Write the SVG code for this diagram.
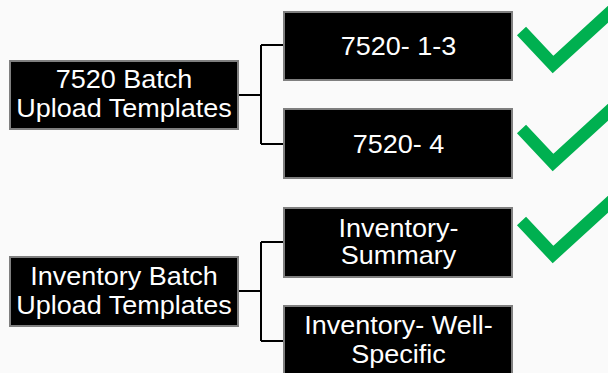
<svg xmlns="http://www.w3.org/2000/svg" width="608" height="373" viewBox="0 0 608 373">
<style>
.box{fill:#000;stroke:#7f7f7f;stroke-width:2}
.lbl{font-family:"Liberation Sans",Arial,sans-serif;font-size:25px;fill:#fff;text-anchor:middle}
.conn{fill:none;stroke:#000;stroke-width:2}
.chk{fill:none;stroke:#00b050;stroke-width:12.5;stroke-linejoin:miter;stroke-linecap:butt}
</style>
<rect width="608" height="373" fill="#fafafa"/>
<g id="connectors">
<path class="conn" d="M239 95H261M261 45V144M261 45H284M261 144H284"/>
<path class="conn" d="M239 291H261M261 242V341M261 242H284M261 341H284"/>
</g>
<g id="n7520">
<rect class="box" x="10" y="61" width="228" height="68"/>
<g transform="matrix(1.08 0 0 1 -9.92 0)"><text class="lbl" x="124" y="88">7520 Batch</text><text class="lbl" x="124" y="117">Upload Templates</text></g>
</g>
<g id="n7520-13">
<rect class="box" x="284" y="12" width="228" height="68"/>
<g transform="matrix(1.08 0 0 1 -31.88 0)"><text class="lbl" x="398.5" y="55">7520- 1-3</text></g>
</g>
<g id="n7520-4">
<rect class="box" x="284" y="109" width="228" height="69"/>
<g transform="matrix(1.08 0 0 1 -31.88 0)"><text class="lbl" x="398.5" y="153">7520- 4</text></g>
</g>
<g id="ninv">
<rect class="box" x="10" y="257" width="228" height="69"/>
<g transform="matrix(1.08 0 0 1 -9.92 0)"><text class="lbl" x="124" y="285">Inventory Batch</text><text class="lbl" x="124" y="314">Upload Templates</text></g>
</g>
<g id="ninv-sum">
<rect class="box" x="284" y="208" width="228" height="69"/>
<g transform="matrix(1.08 0 0 1 -31.88 0)"><text class="lbl" x="398.5" y="236.7">Inventory-</text><text class="lbl" x="398.5" y="264">Summary</text></g>
</g>
<g id="ninv-well">
<rect class="box" x="284" y="306" width="228" height="72"/>
<g transform="matrix(1.08 0 0 1 -31.88 0)"><text class="lbl" x="398.5" y="334">Inventory- Well-</text><text class="lbl" x="398.5" y="363">Specific</text></g>
</g>
<g id="checks">
<polyline class="chk" points="521.5,31 553,64.5 625,-1.4"/>
<polyline class="chk" points="521.5,129 553,162.5 625,96.6"/>
<polyline class="chk" points="521.5,221 553,254.5 625,188.6"/>
</g>
</svg>
